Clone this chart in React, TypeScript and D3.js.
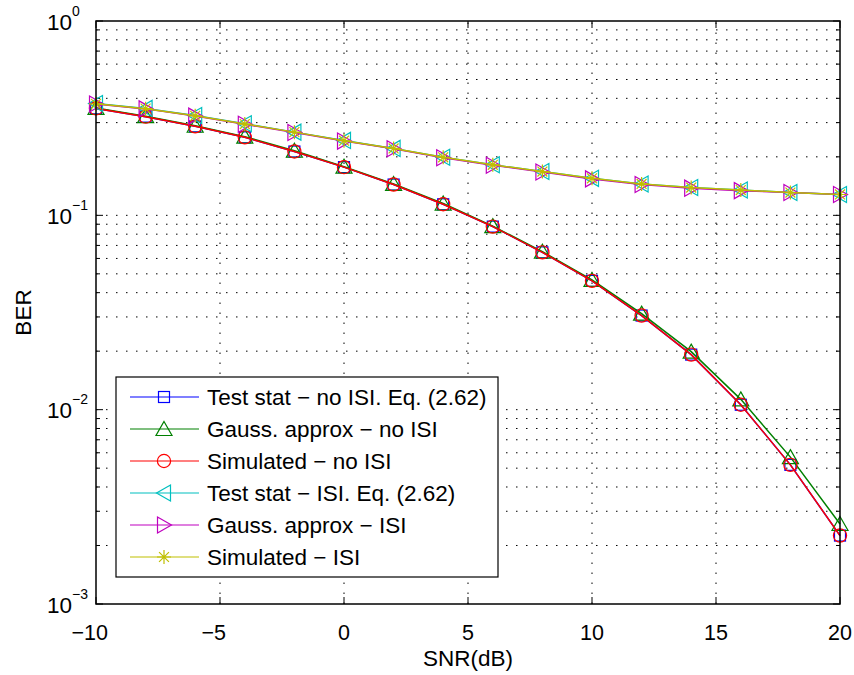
import React from "react";
import * as d3 from "d3";

const snr = [-10, -8, -6, -4, -2, 0, 2, 4, 6, 8, 10, 12, 14, 16, 18, 20];
const testNoIsi = [0.355, 0.322, 0.287, 0.252, 0.213, 0.177, 0.144, 0.114, 0.0875, 0.0645, 0.046, 0.0305, 0.0192, 0.0106, 0.0052, 0.00225];
const gaussNoIsi = [0.357, 0.324, 0.289, 0.254, 0.215, 0.178, 0.145, 0.115, 0.088, 0.065, 0.0465, 0.0312, 0.0199, 0.0113, 0.0057, 0.00258];
const simNoIsi = [0.355, 0.322, 0.287, 0.252, 0.213, 0.177, 0.144, 0.114, 0.0875, 0.0645, 0.046, 0.0305, 0.0192, 0.0106, 0.0052, 0.00225];
const testIsi = [0.376, 0.355, 0.326, 0.296, 0.268, 0.243, 0.221, 0.199, 0.182, 0.168, 0.155, 0.145, 0.139, 0.135, 0.131, 0.128];
const gaussIsi = [0.374, 0.353, 0.324, 0.294, 0.267, 0.241, 0.220, 0.198, 0.181, 0.167, 0.154, 0.144, 0.138, 0.134, 0.131, 0.128];
const simIsi = [0.375, 0.354, 0.325, 0.295, 0.268, 0.242, 0.221, 0.199, 0.182, 0.168, 0.155, 0.145, 0.139, 0.135, 0.131, 0.128];

const xTicks = [-10, -5, 0, 5, 10, 15, 20];
const yDecades = [0, -1, -2, -3];

const seriesNames = [
  "Test stat \u2212 no ISI. Eq. (2.62)",
  "Gauss. approx \u2212 no ISI",
  "Simulated \u2212 no ISI",
  "Test stat \u2212 ISI. Eq. (2.62)",
  "Gauss. approx \u2212 ISI",
  "Simulated \u2212 ISI",
];
const seriesValues = [testNoIsi, gaussNoIsi, simNoIsi, testIsi, gaussIsi, simIsi];
const seriesColors = ["#0000ff", "#008000", "#ff0000", "#00bfbf", "#bf00bf", "#bfbf00"];
const seriesMarkers = ["square", "triUp", "circle", "triLeft", "triRight", "star"];

const W = 854, H = 675;
const L = 96, R = 840, T = 21, B = 604;
const FONT = "'Liberation Sans', Arial, sans-serif";

function Marker({ kind, x, y, color }: { kind: string; x: number; y: number; color: string }) {
  const common = { fill: "none", stroke: color, strokeWidth: 1.2 };
  if (kind === "square") return <rect x={x - 5.5} y={y - 5.5} width={11} height={11} {...common} />;
  if (kind === "circle") return <circle cx={x} cy={y} r={6.6} {...common} />;
  if (kind === "triUp") return <path d={`M${x},${y - 7.5}L${x + 8},${y + 6.5}L${x - 8},${y + 6.5}Z`} {...common} />;
  if (kind === "triLeft") return <path d={`M${x - 7.5},${y}L${x + 6.5},${y - 8}L${x + 6.5},${y + 8}Z`} {...common} />;
  if (kind === "triRight") return <path d={`M${x + 7.5},${y}L${x - 6.5},${y - 8}L${x - 6.5},${y + 8}Z`} {...common} />;
  const r = 7;
  const d = [0, 45, 90, 135].map((a) => {
    const rad = (a * Math.PI) / 180;
    return `M${x - r * Math.cos(rad)},${y - r * Math.sin(rad)}L${x + r * Math.cos(rad)},${y + r * Math.sin(rad)}`;
  }).join("");
  return <path d={d} {...common} />;
}

export default function App() {
  const x = d3.scaleLinear().domain([-10, 20]).range([L, R]);
  const y = d3.scaleLog().domain([1e-3, 1]).range([B, T]);
  const line = d3.line<number>().x((_, i) => x(snr[i])).y((v) => y(v));

  const minorY: number[] = [];
  for (let e = -3; e < 0; e++) for (let m = 2; m <= 9; m++) minorY.push(m * Math.pow(10, e));
  const majorY = yDecades.map((e) => Math.pow(10, e));

  const grid = { stroke: "#000", strokeWidth: 1, strokeDasharray: "1.5,8.5", fill: "none" };

  const legX = 116, legY = 377, legW = 382, legH = 200, rowH = 32;

  return (
    <svg width={W} height={H} style={{ display: "block", position: "absolute", left: 0, top: 0, background: "#fff" }} fontFamily={FONT}>
      <rect x={0} y={0} width={W} height={H} fill="#fff" />
      {xTicks.slice(1, -1).map((t) => (
        <line key={"gx" + t} x1={x(t)} x2={x(t)} y1={B} y2={T} {...grid} />
      ))}
      {[...minorY, ...majorY.slice(1, -1)].map((v, i) => (
        <line key={"gy" + i} x1={L} x2={R} y1={y(v)} y2={y(v)} {...grid} />
      ))}
      {xTicks.map((t) => (
        <g key={"tx" + t}>
          <line x1={x(t)} x2={x(t)} y1={B} y2={B - 7} stroke="#000" />
          <line x1={x(t)} x2={x(t)} y1={T} y2={T + 7} stroke="#000" />
        </g>
      ))}
      {majorY.map((v, i) => (
        <g key={"ty" + i}>
          <line x1={L} x2={L + 7} y1={y(v)} y2={y(v)} stroke="#000" />
          <line x1={R} x2={R - 7} y1={y(v)} y2={y(v)} stroke="#000" />
        </g>
      ))}
      {minorY.map((v, i) => (
        <g key={"my" + i}>
          <line x1={L} x2={L + 4} y1={y(v)} y2={y(v)} stroke="#000" />
          <line x1={R} x2={R - 4} y1={y(v)} y2={y(v)} stroke="#000" />
        </g>
      ))}
      {seriesValues.map((vals, si) => (
        <g key={"s" + si}>
          <path d={line(vals) || ""} fill="none" stroke={seriesColors[si]} strokeWidth={1.5} />
          {vals.map((v, i) => (
            <Marker key={i} kind={seriesMarkers[si]} x={x(snr[i])} y={y(v)} color={seriesColors[si]} />
          ))}
        </g>
      ))}
      <rect x={L} y={T} width={R - L} height={B - T} fill="none" stroke="#000" strokeWidth={1.5} />
      {xTicks.map((t) => {
        const digits = String(Math.abs(t));
        const half = (digits.length * 0.556 * 21.5) / 2;
        return (
          <g key={"lx" + t}>
            <text x={x(t)} y={B + 35.5} textAnchor="middle" fontSize={21.5} fill="#000">{digits}</text>
            {t < 0 && (
              <text x={x(t) - half} y={B + 35.5} textAnchor="end" fontSize={21.5} fill="#000">{"\u2212"}</text>
            )}
          </g>
        );
      })}
      {yDecades.map((e) => (
        <text key={"ly" + e} x={47} y={y(Math.pow(10, e)) + 8.5} textAnchor="start" fontSize={22.5} fill="#000">
          10
          <tspan dy={-14} fontSize={14}>{e === 0 ? "0" : "\u2212" + Math.abs(e)}</tspan>
        </text>
      ))}
      <text x={(L + R) / 2} y={B + 62} textAnchor="middle" fontSize={22.5} fill="#000">SNR(dB)</text>
      <text transform={`translate(31,${(T + B) / 2}) rotate(-90)`} textAnchor="middle" fontSize={22.5} fill="#000">BER</text>
      <rect x={legX} y={legY} width={legW} height={legH} fill="#fff" stroke="#000" strokeWidth={1.2} />
      {seriesNames.map((name, i) => {
        const cy = legY + 20 + i * rowH;
        return (
          <g key={"lg" + i}>
            <line x1={legX + 14} x2={legX + 83} y1={cy} y2={cy} stroke={seriesColors[i]} strokeWidth={1.2} />
            <Marker kind={seriesMarkers[i]} x={legX + 48} y={cy} color={seriesColors[i]} />
            <text x={legX + 91} y={cy + 8} fontSize={22.5} fill="#000">{name}</text>
          </g>
        );
      })}
    </svg>
  );
}
